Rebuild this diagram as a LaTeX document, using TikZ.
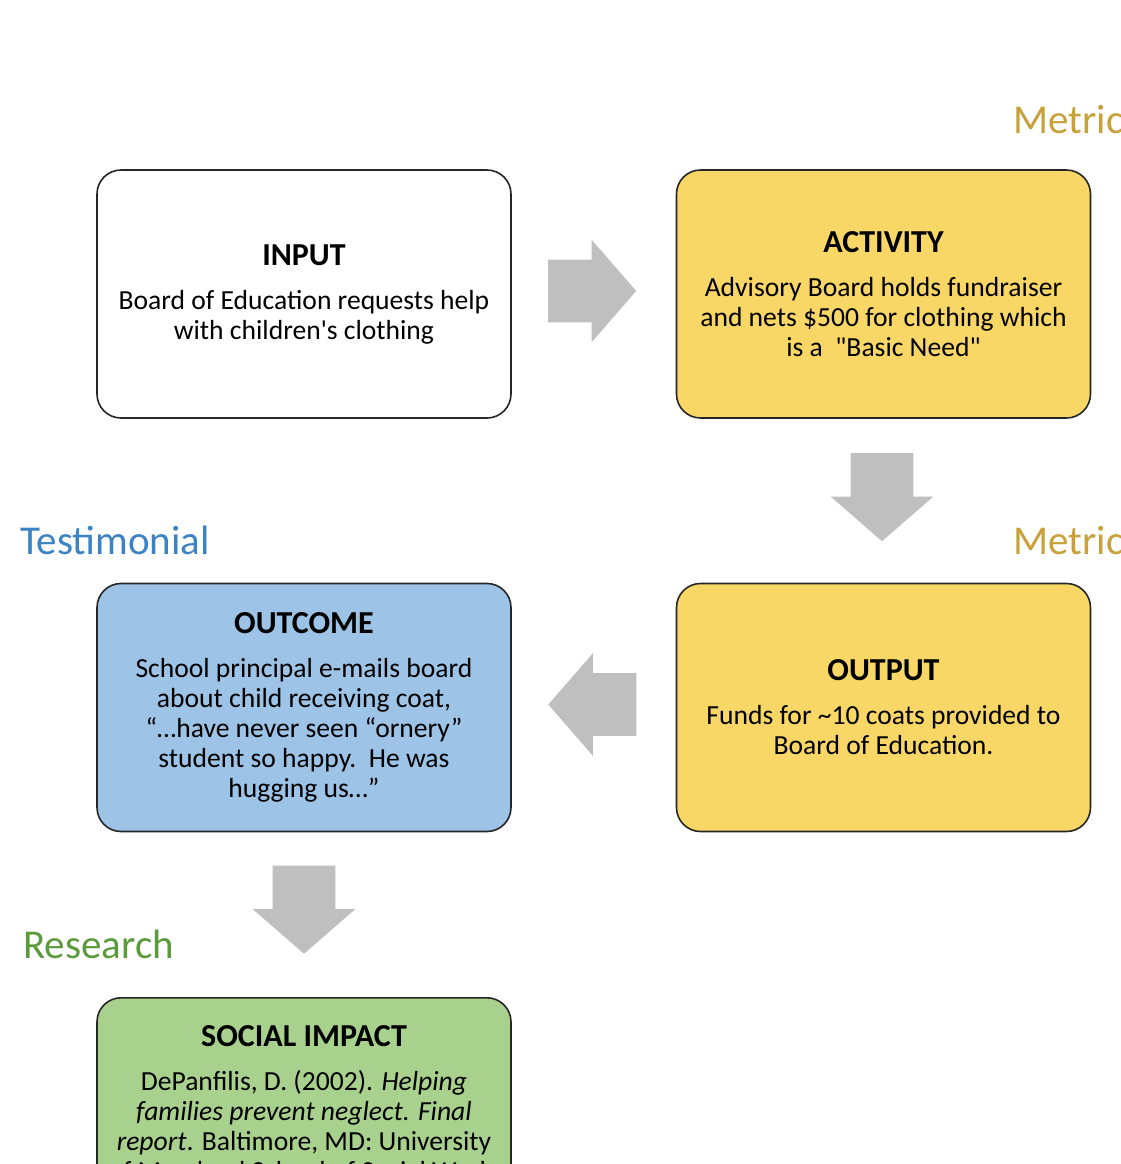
\documentclass[tikz,border=0pt]{standalone}
\usepackage{fontspec}
\setmainfont{Carlito}
\usetikzlibrary{positioning,calc,shapes.arrows}

\definecolor{boxyellow}{HTML}{F9D766}
\definecolor{boxblue}{HTML}{9DC3E6}
\definecolor{boxgreen}{HTML}{A9D18E}
\definecolor{arrowgray}{HTML}{BFBFBF}
\definecolor{metricgold}{HTML}{C9A13A}
\definecolor{testblue}{HTML}{3C83C4}
\definecolor{researchgreen}{HTML}{5C9B3C}

\newcommand{\boxtitle}[1]{{\fontsize{16}{18}\selectfont\bfseries #1}\\[7pt]}

\tikzset{
  logicbox/.style={draw=black!85, line width=0.8pt, rounded corners=12pt,
    minimum width=207pt, minimum height=124pt, align=center,
    font=\fontsize{13.8}{15}\selectfont},
  blockarrow/.style={single arrow, fill=arrowgray, draw=none, inner xsep=0pt,
    inner ysep=15.5pt, minimum height=44pt, single arrow head extend=10pt,
    single arrow tip angle=98, anchor=tail},
  sidelabel/.style={font=\fontsize{20.5}{24}\selectfont, anchor=west, inner sep=0pt}
}

\begin{document}
\begin{tikzpicture}[x=0.5pt,y=-0.5pt]
  \useasboundingbox (0,0) rectangle (1121,1164);
  \clip (0,0) rectangle (1121,1164);

  % Logic model boxes
  \node[logicbox] (input) at (304,294)
    {\boxtitle{INPUT}Board of Education requests help\\with children\textquotesingle s clothing};
  \node[logicbox, fill=boxyellow] (activity) at (883.5,294)
    {\boxtitle{ACTIVITY}Advisory Board holds fundraiser\\and nets \$500 for clothing which\\is a~~\textquotedbl Basic Need\textquotedbl};
  \node[logicbox, fill=boxyellow] (output) at (883.5,707.5)
    {\boxtitle{OUTPUT}Funds for \textasciitilde10 coats provided to\\Board of Education.};
  \node[logicbox, fill=boxblue] (outcome) at (304,707.5)
    {\boxtitle{OUTCOME}School principal e-mails board\\about child receiving coat,\\“…have never seen “ornery”\\student so happy.~~He was\\hugging us…”};
  \node[logicbox, fill=boxgreen, anchor=north, minimum height=0pt, inner ysep=14pt] (impact) at (304,997)
    {\boxtitle{SOCIAL IMPACT}DePanfilis, D. (2002). \textit{Helping}\\\textit{families prevent neglect. Final}\\\textit{report}. Baltimore, MD: University\\of Maryland School of Social Work.};

  % Block arrows between the boxes
  \node[blockarrow] (a1) at ($(input.east)+(36,-3)$) {};
  \node[blockarrow, rotate=270] (a2) at ($(activity.south)+(-1.5,34)$) {};
  \node[blockarrow, rotate=180] (a3) at ($(output.west)+(-39,-3)$) {};
  \node[blockarrow, rotate=270] (a4) at ($(outcome.south)+(0,33)$) {};

  % Evidence labels
  \node[sidelabel, text=metricgold] (metric1) at (1013,120) {Metric};
  \node[sidelabel, text=metricgold] (metric2) at (1013,541) {Metric};
  \node[sidelabel, text=testblue] (testimonial) at (20,540) {Testimonial};
  \node[sidelabel, text=researchgreen] (research) at (23,944) {Research};
\end{tikzpicture}
\end{document}
